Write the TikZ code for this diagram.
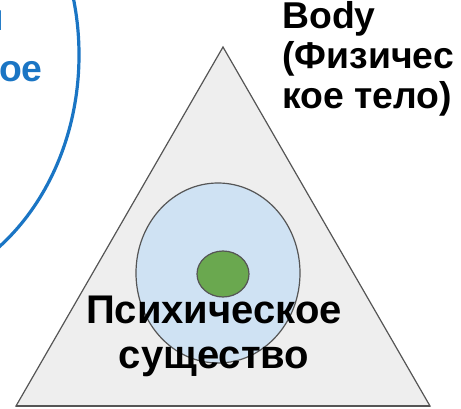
\documentclass[tikz,border=0pt]{standalone}
\usepackage{fontspec}
\setmainfont{Liberation Sans}
\definecolor{triFill}{HTML}{EEEEEE}
\definecolor{triLine}{HTML}{555555}
\definecolor{psyFill}{HTML}{CFE2F3}
\definecolor{coreFill}{HTML}{6AA84F}
\definecolor{mindBlue}{HTML}{1A75C4}
\begin{document}
\begin{tikzpicture}[
        x=0.75pt, y=-0.75pt,
        label/.style={inner sep=0pt, font=\bfseries},
        psyring/.style={draw=triLine, line width=0.9pt}
    ]
    \useasboundingbox (0,0) rectangle (461,408);

    % outer blue ring, cut off at the left
    \draw[mindBlue, line width=2.4pt] (-121,55) ellipse [x radius=200, y radius=240];
    \node[label, text=mindBlue, anchor=base east, font=\bfseries\fontsize{28}{30}\selectfont] (mind1) at (4,30) {н};
    \node[label, text=mindBlue, anchor=base east, font=\bfseries\fontsize{28}{30}\selectfont] (mind2) at (43,81) {ое};

    % triangle
    \coordinate (apex) at (223,47);
    \coordinate (left) at (16,406);
    \coordinate (right) at (430,406);
    \draw[fill=triFill, draw=triLine, line width=0.9pt] (apex) -- (right) -- (left) -- cycle;
    \draw[triLine, line width=2.2pt] (left) -- (right);

    % psychic being
    \draw[psyring, fill=psyFill] (218,273) ellipse [x radius=82, y radius=90];
    \draw[psyring, fill=coreFill] (223,274) ellipse [x radius=26, y radius=23];

    \node[label, anchor=base west, align=left, font=\bfseries\fontsize{28}{30}\selectfont] (body) at (282,108) {Body\\(Физичес\\кое тело)};
    \node[label, anchor=base, align=center, font=\bfseries\fontsize{30}{33.75}\selectfont] (psy) at (214,368) {Психическое\\существо};

\end{tikzpicture}
\end{document}
